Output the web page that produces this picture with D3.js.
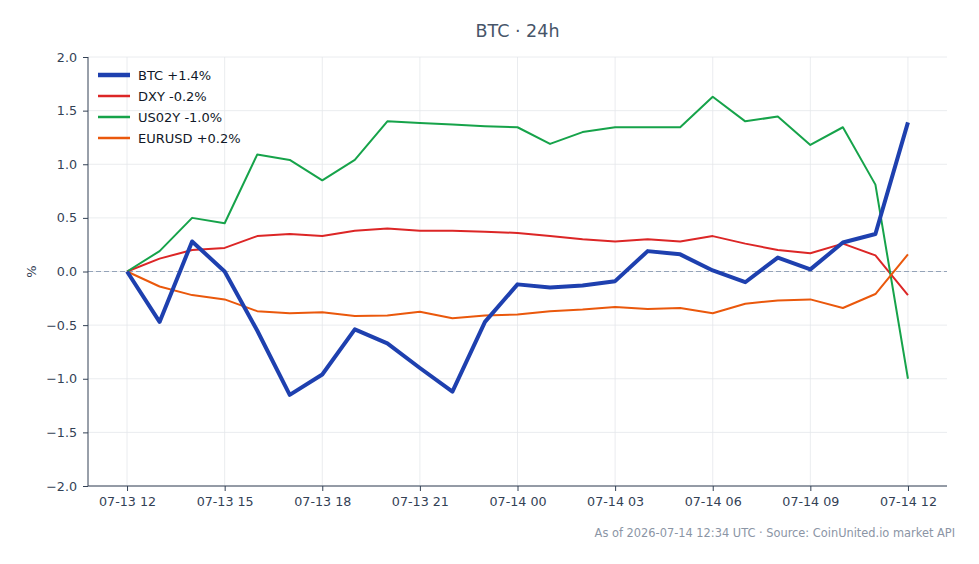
<!DOCTYPE html>
<html>
<head>
<meta charset="utf-8">
<script src="https://cdn.jsdelivr.net/npm/d3@7"></script>
<style>
  body { margin: 0; background: #fff; }
  svg { font-family: "DejaVu Sans", sans-serif; }
</style>
</head>
<body>
<svg id="chart" width="979" height="564"></svg>
<script>
// hourly % change since 07-13 12:00
const hours = d3.range(0, 25);
const startTime = new Date(2026, 6, 13, 12);
const tickHours = [0, 3, 6, 9, 12, 15, 18, 21, 24];
const tickLabels = ['07-13 12', '07-13 15', '07-13 18', '07-13 21', '07-14 00', '07-14 03', '07-14 06', '07-14 09', '07-14 12'];
const yTicks = [-2.0, -1.5, -1.0, -0.5, 0.0, 0.5, 1.0, 1.5, 2.0];

const btc = [0, -0.47, 0.28, 0.0, -0.55, -1.15, -0.96, -0.54, -0.67, -0.90, -1.12, -0.47, -0.12, -0.15, -0.13, -0.09, 0.19, 0.16, 0.01, -0.10, 0.13, 0.02, 0.27, 0.35, 1.39];
const dxy = [0, 0.12, 0.20, 0.22, 0.33, 0.35, 0.33, 0.38, 0.40, 0.38, 0.38, 0.37, 0.36, 0.33, 0.30, 0.28, 0.30, 0.28, 0.33, 0.26, 0.20, 0.17, 0.26, 0.15, -0.22];
const us02y = [0, 0.19, 0.50, 0.45, 1.09, 1.04, 0.85, 1.04, 1.40, 1.385, 1.37, 1.355, 1.345, 1.19, 1.30, 1.345, 1.345, 1.345, 1.63, 1.40, 1.445, 1.18, 1.345, 0.81, -1.0];
const eurusd = [0, -0.14, -0.22, -0.26, -0.37, -0.39, -0.38, -0.415, -0.41, -0.375, -0.435, -0.41, -0.40, -0.37, -0.355, -0.33, -0.35, -0.34, -0.39, -0.30, -0.27, -0.26, -0.34, -0.21, 0.16];

const seriesNames = ['BTC +1.4%', 'DXY -0.2%', 'US02Y -1.0%', 'EURUSD +0.2%'];
const seriesValues = [btc, dxy, us02y, eurusd];
const seriesColors = ['#1e40af', '#dc2626', '#16a34a', '#ea580c'];
const seriesWidths = [4, 2, 2, 2];

const margin = {left: 88, right: 32, top: 57, bottom: 78};
const width = 979, height = 564;

let svg = d3.select('#chart');

let toTime = h => new Date(startTime.getTime() + h * 3600 * 1000);

let x = d3.scaleTime()
	.domain([toTime(-1.2), toTime(25.2)])
	.range([margin.left, width - margin.right]);

let y = d3.scaleLinear()
	.domain([-2, 2])
	.range([height - margin.bottom, margin.top]);

// grid
let grid = svg.append('g');

grid.selectAll('.gx')
	.data(tickHours)
	.enter()
	.append('line')
	.attr('x1', d => x(toTime(d)))
	.attr('x2', d => x(toTime(d)))
	.attr('y1', y(-2))
	.attr('y2', y(2))
	.style('stroke', '#e5e7eb')
	.style('stroke-width', 0.8)
;

grid.selectAll('.gy')
	.data(yTicks)
	.enter()
	.append('line')
	.attr('x1', x.range()[0])
	.attr('x2', x.range()[1])
	.attr('y1', d => y(d))
	.attr('y2', d => y(d))
	.style('stroke', '#e5e7eb')
	.style('stroke-width', 0.8)
;

// zero line
svg.append('line')
	.attr('x1', x.range()[0])
	.attr('x2', x.range()[1])
	.attr('y1', y(0))
	.attr('y2', y(0))
	.style('stroke', '#94a3b8')
	.style('stroke-width', 1.1)
	.style('stroke-dasharray', '5,3')
;

// axes
let xAxis = d3.axisBottom(x)
	.tickValues(tickHours.map(toTime))
	.tickFormat((d, i) => tickLabels[i])
	.tickSize(5)
	.tickPadding(6);

let yAxis = d3.axisLeft(y)
	.tickValues(yTicks)
	.tickFormat(d => d3.format('.1f')(d).replace('-', '\u2212'))
	.tickSize(5)
	.tickPadding(6);

let gx = svg.append('g')
	.attr('transform', 'translate(0,' + y(-2) + ')')
	.call(xAxis);

let gy = svg.append('g')
	.attr('transform', 'translate(' + margin.left + ',0)')
	.call(yAxis);

[gx, gy].forEach(g => {
	g.select('.domain').style('stroke', '#334155').style('stroke-width', 1);
	g.selectAll('.tick line').style('stroke', '#334155');
	g.selectAll('.tick text')
		.style('fill', '#334155')
		.style('font-size', '12.7px')
		.style('font-family', '"DejaVu Sans", sans-serif');
});
gx.select('.domain').attr('d', 'M' + x.range()[0] + ',0H' + x.range()[1]);
gy.select('.domain').attr('d', 'M0,' + y.range()[0] + 'V' + y.range()[1]);

// lines
let line = d3.line()
	.x((d, i) => x(toTime(hours[i])))
	.y(d => y(d));

// draw thin lines first, BTC on top
[1, 2, 3, 0].forEach(k => {
	svg.append('path')
		.datum(seriesValues[k])
		.attr('d', line)
		.style('fill', 'none')
		.style('stroke', seriesColors[k])
		.style('stroke-width', seriesWidths[k])
		.style('stroke-linejoin', 'round')
	;
});

// legend
let legend = svg.append('g')
	.attr('transform', 'translate(98,75)');

let items = legend.selectAll('g')
	.data(seriesNames)
	.enter()
	.append('g')
	.attr('transform', (d, i) => 'translate(0,' + i * 21 + ')');

items.append('line')
	.attr('x1', 0)
	.attr('x2', 32)
	.style('stroke', (d, i) => seriesColors[i])
	.style('stroke-width', (d, i) => seriesWidths[i] + 0.5);

items.append('text')
	.attr('x', 40)
	.attr('dy', '0.35em')
	.style('font-size', '13px')
	.style('fill', '#111827')
	.text(d => d);

// titles
svg.append('text')
	.attr('x', (x.range()[0] + x.range()[1]) / 2)
	.attr('y', 37)
	.attr('text-anchor', 'middle')
	.style('font-size', '17.5px')
	.style('fill', '#475569')
	.text('BTC \u00b7 24h');

svg.append('text')
	.attr('transform', 'translate(36,' + y(0) + ') rotate(-90)')
	.attr('text-anchor', 'middle')
	.style('font-size', '13px')
	.style('fill', '#334155')
	.text('%');

svg.append('text')
	.attr('x', 955)
	.attr('y', 537)
	.attr('text-anchor', 'end')
	.style('font-size', '11.4px')
	.style('fill', '#8b95a5')
	.text('As of 2026-07-14 12:34 UTC \u00b7 Source: CoinUnited.io market API');
</script>
</body>
</html>
